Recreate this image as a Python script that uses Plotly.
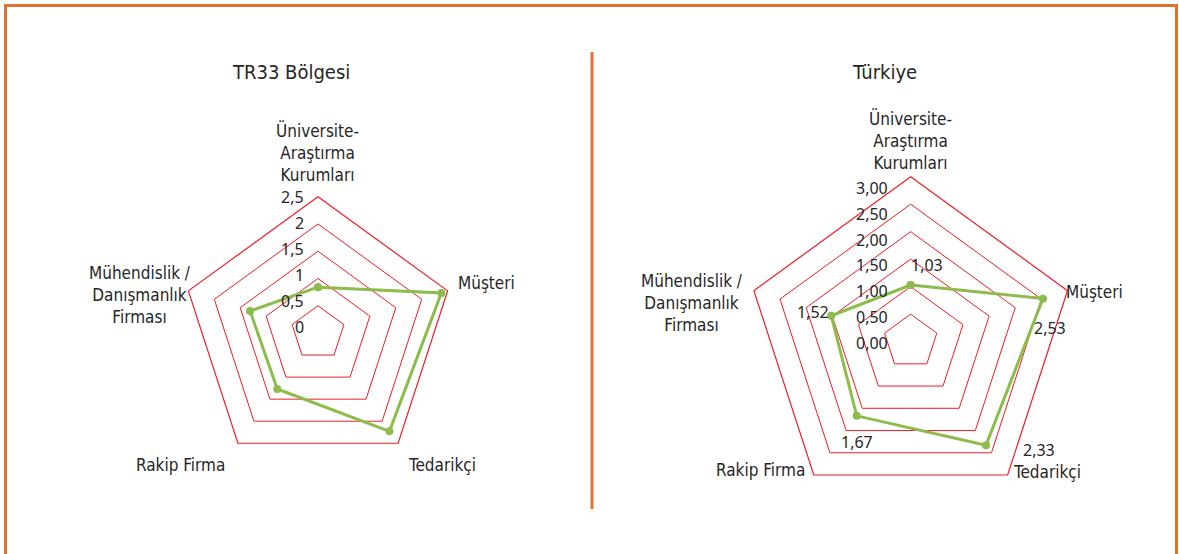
import plotly.graph_objects as go

# Cooperation partners (axes of both radar charts)
categories = [
    "Üniversite-Araştırma Kurumları",
    "Müşteri",
    "Tedarikçi",
    "Rakip Firma",
    "Mühendislik / Danışmanlık Firması",
]
category_lines = {
    "Üniversite-Araştırma Kurumları": "Üniversite-<br>Araştırma<br>Kurumları",
    "Müşteri": "Müşteri",
    "Tedarikçi": "Tedarikçi",
    "Rakip Firma": "Rakip Firma",
    "Mühendislik / Danışmanlık Firması": "Mühendislik /<br>Danışmanlık<br>Firması",
}

tr33_values = [0.84, 2.38, 2.23, 1.27, 1.31]
turkiye_values = [1.03, 2.53, 2.33, 1.67, 1.52]

tr33_ticks = [0, 0.5, 1, 1.5, 2, 2.5]
tr33_ticktext = ["0", "0,5", "1", "1,5", "2", "2,5"]
turkiye_ticks = [0, 0.5, 1, 1.5, 2, 2.5, 3]
turkiye_ticktext = ["0,00", "0,50", "1,00", "1,50", "2,00", "2,50", "3,00"]

W, H = 1179, 554
GRID = "#EE1C25"
GREEN = "#8DBB4C"
ORANGE = "#E2712F"
TEXT = "#262626"
COND = "DejaVu Sans Condensed, Liberation Sans Narrow, Roboto, sans-serif"
TICKF = "Noto Sans, Open Sans, sans-serif"


def px_x(x):
    return x / W


def px_y(y):
    return 1 - y / H


def domain(cx, cy, r):
    return dict(x=[px_x(cx - r), px_x(cx + r)], y=[px_y(cy + r), px_y(cy - r)])


fig = go.Figure()

for vals, sub in ((tr33_values, "polar"), (turkiye_values, "polar2")):
    fig.add_trace(go.Scatterpolar(
        r=vals + vals[:1],
        theta=categories + categories[:1],
        mode="lines+markers",
        line=dict(color=GREEN, width=3),
        marker=dict(color=GREEN, size=8),
        subplot=sub,
        showlegend=False,
        hoverinfo="skip",
    ))


def polar_layout(cx, cy, r, rmax, ticks):
    return dict(
        domain=domain(cx, cy, r),
        gridshape="linear",
        bgcolor="white",
        radialaxis=dict(
            range=[0, rmax],
            angle=90,
            tickvals=ticks,
            showticklabels=False,
            showline=False,
            showgrid=True,
            gridcolor=GRID,
            gridwidth=1.2,
            ticks="",
        ),
        angularaxis=dict(
            categoryorder="array",
            categoryarray=categories,
            rotation=90,
            direction="clockwise",
            showgrid=False,
            showline=True,
            linecolor=GRID,
            linewidth=1.2,
            ticks="",
            showticklabels=False,
        ),
    )


annotations = []


def label(x, y, text, size=17, font=COND, xanchor="center"):
    annotations.append(dict(
        x=px_x(x), y=px_y(y), xref="paper", yref="paper",
        text=text, showarrow=False, align="center",
        xanchor=xanchor, yanchor="middle",
        font=dict(family=font, size=size, color=TEXT),
    ))


# Titles
label(291, 72, "TR33 Bölgesi", size=20)
label(884, 72, "Türkiye", size=20)

# Axis names, left chart
left_pos = [(317, 152), (487, 283), (442, 465), (180, 465), (140, 295)]
for c, (x, y) in zip(categories, left_pos):
    label(x, y, category_lines[c])

# Axis names, right chart
right_pos = [(910, 140), (1094, 292), (1047, 472), (760, 470), (692, 303)]
for c, (x, y) in zip(categories, right_pos):
    label(x, y, category_lines[c])

# Value scale labels, placed left of the vertical axis
for v, t in zip(tr33_ticks, tr33_ticktext):
    label(306, 327 - v * 51.8, t, size=16, font=TICKF, xanchor="right")
for v, t in zip(turkiye_ticks, turkiye_ticktext):
    label(890, 343 - v * 51.7, t, size=16, font=TICKF, xanchor="right")

# Value labels, right chart
value_pos = [(927, 265), (1050, 328), (1039, 450), (857, 442), (813, 312)]
for v, (x, y) in zip(turkiye_values, value_pos):
    label(x, y, f"{v:.2f}".replace(".", ","), size=16, font=TICKF)

shapes = [
    # outer frame (open at the bottom edge of the canvas)
    dict(type="rect", xref="paper", yref="paper",
         x0=px_x(5.5), x1=px_x(1176.5), y0=px_y(570), y1=px_y(5.5),
         line=dict(color=ORANGE, width=3), fillcolor="rgba(0,0,0,0)", layer="above"),
    # divider between the two charts
    dict(type="line", xref="paper", yref="paper",
         x0=px_x(592), x1=px_x(592), y0=px_y(52), y1=px_y(509),
         line=dict(color=ORANGE, width=3)),
]

fig.update_layout(
    width=W, height=H,
    margin=dict(l=0, r=0, t=0, b=0),
    paper_bgcolor="white",
    plot_bgcolor="white",
    polar=polar_layout(318, 333, 136.3, 2.5, tr33_ticks),
    polar2=polar_layout(910.7, 341.6, 164.9, 3, turkiye_ticks),
    annotations=annotations,
    shapes=shapes,
    showlegend=False,
)

fig.write_html("out.html")
